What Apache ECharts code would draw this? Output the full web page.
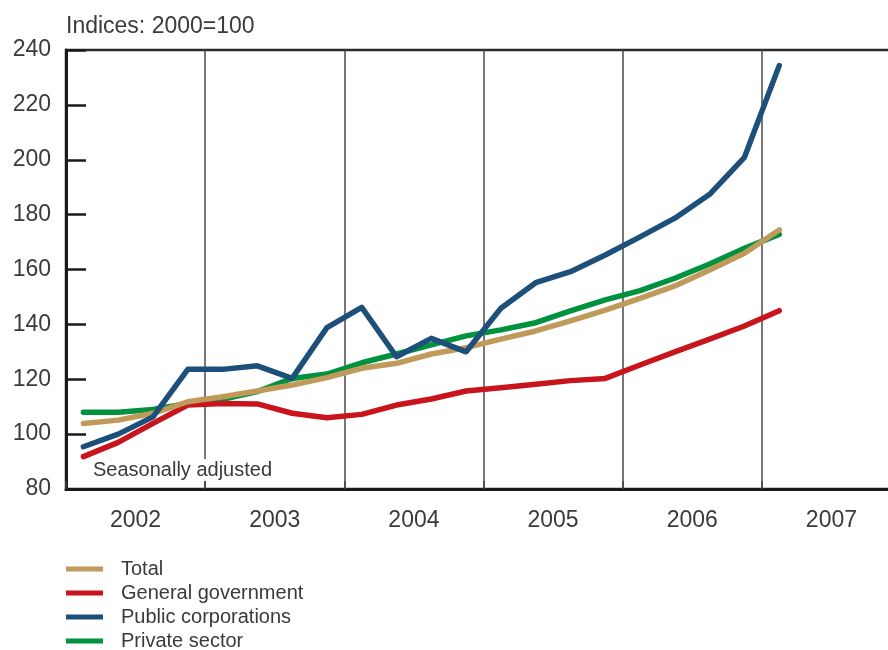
<!DOCTYPE html>
<html>
<head>
<meta charset="utf-8">
<script src="https://cdn.jsdelivr.net/npm/echarts@6/dist/echarts.min.js"></script>
<style>
html,body{margin:0;padding:0;background:#fff;}
#chart{width:888px;height:650px;}
</style>
</head>
<body>
<div id="chart"></div>
<script>
// Quarters 2002Q1 .. 2007Q4 (data ends 2007Q1)
var years = ['2002','2003','2004','2005','2006','2007'];
var quarters = [];
years.forEach(function(y){ for (var q=1;q<=4;q++) quarters.push(y+'Q'+q); });

var seriesNames = ['Total','General government','Public corporations','Private sector'];
var total   = [103.9,105.1,107.6,111.8,113.6,115.7,117.9,120.6,124.0,125.8,129.2,131.5,134.6,137.6,141.3,145.2,149.5,154.0,159.8,165.9,174.4];
var general = [91.8,97.0,103.9,110.6,111.2,111.0,107.6,106.0,107.2,110.6,112.8,115.7,116.9,118.2,119.5,120.3,125.2,130.0,134.6,139.4,145.0];
var publicCorp = [95.4,100.0,106.3,123.6,123.6,124.9,120.3,138.8,146.2,128.2,134.9,130.0,145.9,155.2,159.2,165.3,171.9,178.7,187.4,200.9,234.3];
var privateSec = [108.0,108.0,109.0,111.2,112.7,115.5,120.3,121.9,126.0,129.2,132.5,135.8,138.0,140.6,144.9,148.9,152.3,156.8,162.0,167.7,172.8];

var yMin = 80, yMax = 240, yStep = 20;
var unitTitle = 'Indices: 2000=100';
var note = 'Seasonally adjusted';

var font = "'Liberation Sans', Arial, sans-serif";
var textColor = '#3a3a3a';
var colors = {total:'#bf9a5a', general:'#c8151d', publicCorp:'#1c4f79', privateSec:'#00923f'};

function mk(name, data, color){
  return {
    name: name, type: 'line', data: data, xAxisIndex: 0,
    symbol: 'none', silent: true, animation: false,
    itemStyle: {color: color},
    lineStyle: {color: color, width: 5.5, cap: 'round', join: 'round'}
  };
}

var chart = echarts.init(document.getElementById('chart'), null, {renderer:'canvas'});
chart.setOption({
  animation: false,
  textStyle: {fontFamily: font, color: textColor},
  title: {
    text: unitTitle, left: 61, top: 10,
    textStyle: {fontFamily: font, fontSize: 23, fontWeight: 'normal', color: textColor}
  },
  grid: {
    left: 66, top: 50, bottom: 161, width: 835,
    outerBoundsMode: 'none', containLabel: false,
    show: true, borderColor: '#2a2a2a', borderWidth: 2.5, backgroundColor: 'transparent'
  },
  legend: {
    orient: 'vertical', left: 66, top: 559, height: 200, padding: 0,
    icon: 'rect', itemWidth: 37, itemHeight: 5, itemGap: 4,
    data: seriesNames, selectedMode: false,
    textStyle: {fontFamily: font, fontSize: 20, color: textColor, padding: [0,0,0,13]}
  },
  xAxis: [
    {type: 'category', data: quarters, show: false, boundaryGap: true},
    {
      type: 'category', data: years, position: 'bottom', boundaryGap: true,
      axisLine: {show: true, lineStyle: {color: '#1a1a1a', width: 3}},
      axisTick: {show: true, inside: true, length: 8, interval: 0, lineStyle: {color: '#444', width: 1.5}},
      axisLabel: {interval: 0, margin: 20, fontSize: 23, color: textColor, fontFamily: font},
      splitLine: {show: true, interval: 0, lineStyle: {color: '#4a4a4a', width: 1.5}}
    }
  ],
  yAxis: {
    type: 'value', min: yMin, max: yMax, interval: yStep,
    axisLine: {show: true, lineStyle: {color: '#1a1a1a', width: 3}},
    axisTick: {show: true, inside: true, length: 20, lineStyle: {color: '#1a1a1a', width: 2.5}},
    axisLabel: {margin: 15, fontSize: 23, color: textColor, fontFamily: font},
    splitLine: {show: false}
  },
  graphic: [{
    type: 'text', left: 88, top: 459, z: 100,
    style: {
      text: note, font: '20px ' + font, fill: textColor,
      backgroundColor: '#fff', padding: [1, 4, 1, 5]
    }
  }],
  series: [
    mk(seriesNames[3], privateSec, colors.privateSec),
    mk(seriesNames[1], general, colors.general),
    mk(seriesNames[0], total, colors.total),
    mk(seriesNames[2], publicCorp, colors.publicCorp)
  ]
});
</script>
</body>
</html>
